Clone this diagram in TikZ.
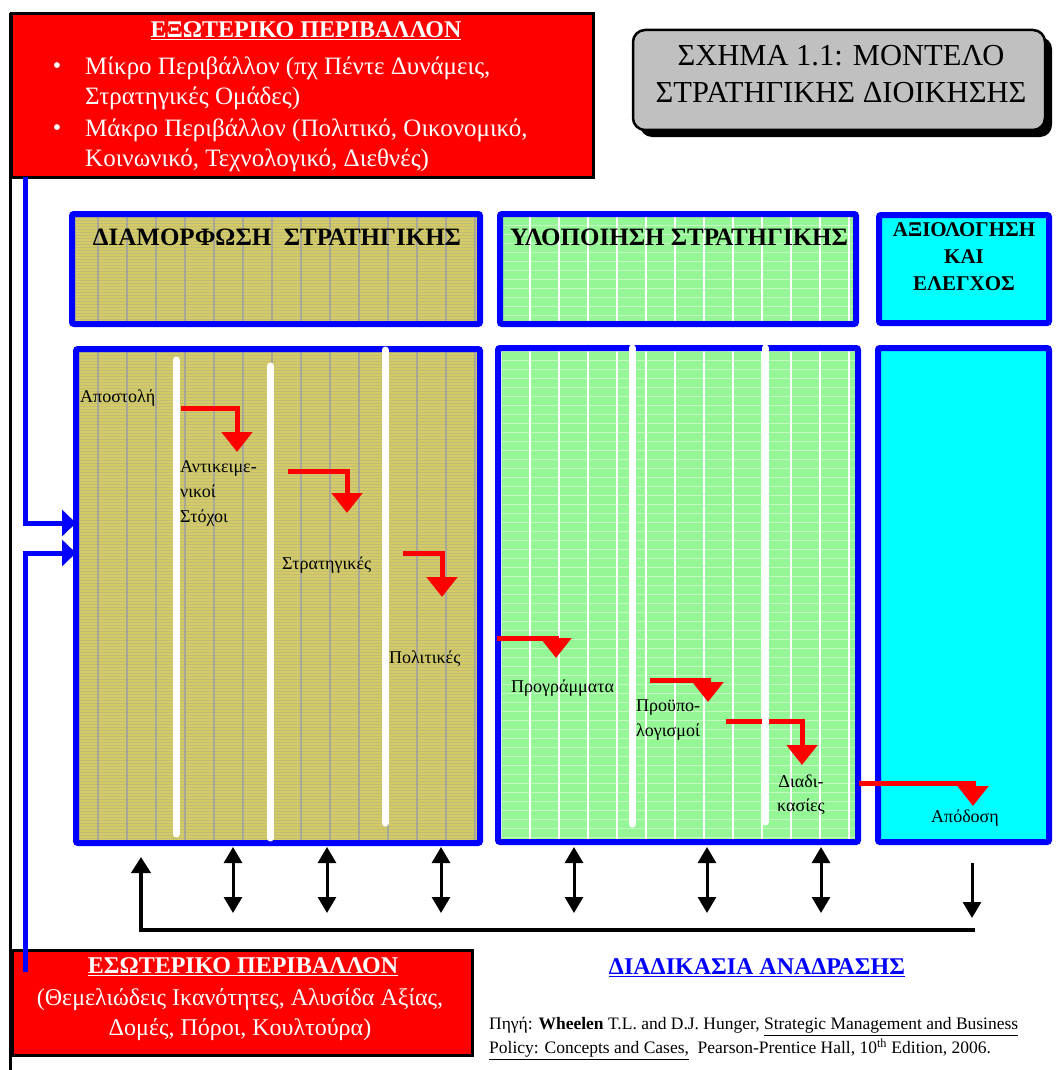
\documentclass[tikz,border=0pt]{standalone}
\usepackage{fontspec}
\setmainfont{Liberation Serif}
\usetikzlibrary{arrows.meta,calc}
\newcommand\pxfont[2]{\fontsize{#1}{#2}\selectfont}
\definecolor{panelblue}{RGB}{0,0,255}
\definecolor{olivefill}{RGB}{212,204,98}
\definecolor{olivestripe}{RGB}{192,188,126}
\definecolor{olivegrid}{RGB}{168,168,152}
\definecolor{greenfill}{RGB}{148,246,148}
\definecolor{cyanfill}{RGB}{0,255,255}
\definecolor{envred}{RGB}{255,0,0}
\definecolor{titlegray}{RGB}{192,192,192}
\begin{document}
\begin{tikzpicture}[x=1pt,y=-1pt,
  panelframe/.style={draw=panelblue,line width=6pt,rounded corners=2pt},
  whitebar/.style={draw=white,line width=7pt,line cap=round},
  redarrow/.style={draw=envred,line width=5pt,-{Triangle[width=30pt,length=20pt]}},
  blkdouble/.style={draw=black,line width=3pt,{Triangle[width=18pt,length=16pt]}-{Triangle[width=18pt,length=16pt]}},
  blkarrow/.style={draw=black,line width=3pt,-{Triangle[width=18pt,length=16pt]}},
  bluearrow/.style={draw=panelblue,line width=5pt,-{Triangle[width=26pt,length=14pt]}},
  envbox/.style={fill=envred,draw=black,line width=3pt},
  envtext/.style={text=white,inner sep=0pt,font=\pxfont{24}{30}},
  headtext/.style={inner sep=0pt,font=\bfseries\pxfont{25}{27},align=center},
  lbl/.style={inner sep=0pt,font=\pxfont{18}{25}}]

\useasboundingbox (0,0) rectangle (1064,1070);
\fill[white] (0,0) rectangle (1064,1070);

% page rule on the left
\draw[black,line width=3pt] (10,13) -- (10,1070);

% ---------- external environment box ----------
\draw[envbox] (11,14) rectangle (593,177);
\node[envtext,font=\bfseries\pxfont{24}{30}] (extitle) at (306,31) {\underline{ΕΞΩΤΕΡΙΚΟ ΠΕΡΙΒΑΛΛΟΝ}};
\node[envtext] (bul1) at (57,68) {•};
\node[envtext,anchor=west,align=left,font=\pxfont{25}{30}] (micro) at (85,83) {Μίκρο Περιβάλλον (πχ Πέντε Δυνάμεις,\\Στρατηγικές Ομάδες)};
\node[envtext] (bul2) at (57,130) {•};
\node[envtext,anchor=west,align=left,font=\pxfont{25}{30}] (macro) at (85,145) {Μάκρο Περιβάλλον (Πολιτικό, Οικονομικό,\\Κοινωνικό, Τεχνολογικό, Διεθνές)};

% ---------- title box ----------
\fill[black,rounded corners=12pt] (640,37) rectangle (1052,137);
\draw[fill=titlegray,draw=black,line width=2.5pt,rounded corners=12pt] (633,30) rectangle (1045,130);
\node[inner sep=0pt,align=center,font=\pxfont{30.5}{37}] (title) at (841,74) {ΣΧΗΜΑ 1.1: ΜΟΝΤΕΛΟ\\ΣΤΡΑΤΗΓΙΚΗΣ ΔΙΟΙΚΗΣΗΣ};

% ---------- olive panels (formulation) ----------
\begin{scope}
  \clip (72,214) rectangle (480,324) (76,349) rectangle (480,843);
  \fill[olivefill] (60,200) rectangle (490,860);
  \foreach \yy in {205,208,...,850} \draw[olivestripe,line width=1pt] (60,\yy) -- (490,\yy);
  \foreach \xx in {98,127,...,479} \draw[olivegrid,line width=1.5pt] (\xx,200) -- (\xx,860);
\end{scope}

% ---------- green panels (implementation) ----------
\begin{scope}
  \clip (500,214) rectangle (856,324) (498,348) rectangle (858,842);
  \fill[greenfill] (490,200) rectangle (870,860);
  \foreach \yy in {216,225,...,840} \draw[white,opacity=0.45,line width=1pt] (490,\yy) -- (870,\yy);
  \foreach \xx in {501,530,...,858} \draw[white,line width=1.3pt] (\xx,200) -- (\xx,860);
\end{scope}

% ---------- cyan panels (evaluation) ----------
\fill[cyanfill] (879,215) rectangle (1049,323);
\fill[cyanfill] (878,348) rectangle (1049,842);

% panel frames
\draw[panelframe] (72,214) rectangle (480,324);
\draw[panelframe] (500,214) rectangle (856,324);
\draw[panelframe] (879,215) rectangle (1049,323);
\draw[panelframe] (76,349) rectangle (480,843);
\draw[panelframe] (498,348) rectangle (858,842);
\draw[panelframe] (878,348) rectangle (1049,842);

% panel headings
\node[headtext] (hform) at (277,237) {ΔΙΑΜΟΡΦΩΣΗ\ \ ΣΤΡΑΤΗΓΙΚΗΣ};
\node[headtext] (himpl) at (679,237) {ΥΛΟΠΟΙΗΣΗ ΣΤΡΑΤΗΓΙΚΗΣ};
\node[headtext,font=\bfseries\pxfont{21}{27}] (heval) at (964,257) {ΑΞΙΟΛΟΓΗΣΗ\\ΚΑΙ\\ΕΛΕΓΧΟΣ};

% ---------- process labels ----------
\node[lbl,anchor=west] (mission) at (80,398) {Αποστολή};
\node[lbl,anchor=west,align=left] (objectives) at (180,493) {Αντικειμε-\\νικοί\\Στόχοι};
\node[lbl,anchor=west] (strategies) at (282,565) {Στρατηγικές};
\node[lbl,anchor=west] (policies) at (389,659) {Πολιτικές};
\node[lbl,anchor=west] (programs) at (511,688) {Προγράμματα};
\node[lbl,anchor=west,align=left] (budgets) at (636,720) {Προϋπο-\\λογισμοί};
\node[lbl,align=center,font=\pxfont{18}{24}] (procedures) at (801,795) {Διαδι-\\κασίες};
\node[lbl] (performance) at (965,818) {Απόδοση};

% ---------- red flow arrows ----------
\coordinate (r1s) at (181,408); \coordinate (r1t) at (237,452);
\coordinate (r2s) at (288,471); \coordinate (r2t) at (347,513);
\coordinate (r3s) at (403,553); \coordinate (r3t) at (442,597);
\coordinate (r4s) at (497,638); \coordinate (r4t) at (556,658);
\coordinate (r5s) at (650,680); \coordinate (r5t) at (708,702);
\coordinate (r6s) at (726,721); \coordinate (r6t) at (802,765);
\coordinate (r7s) at (859,783); \coordinate (r7t) at (973,806);
\foreach \i in {1,...,7} \draw[redarrow] (r\i s) -| (r\i t);

% white column separators
\draw[whitebar] (176,360) -- (176,834);
\draw[whitebar] (270,366) -- (270,838);
\draw[whitebar] (385,350) -- (385,823);
\draw[whitebar] (632,348) -- (632,824);
\draw[whitebar] (765,348) -- (765,822);

% ---------- feedback loop ----------
\foreach \n/\xx in {a/233,b/327,c/441,d/574,e/707,f/821} {
  \coordinate (fb\n top) at (\xx,847);
  \coordinate (fb\n bot) at (\xx,913);
  \draw[blkdouble] (fb\n top) -- (fb\n bot);
}
\coordinate (fbright) at (975,930);
\coordinate (fbup) at (141,857);
\draw[draw=black,line width=4pt,-{Triangle[width=19pt,length=16pt]}] (fbright) -| (fbup);
\coordinate (evtop) at (972,863);
\coordinate (evbot) at (972,918);
\draw[blkarrow] (evtop) -- (evbot);
\node[inner sep=0pt,text=panelblue,font=\bfseries\pxfont{24}{26}] (feedback) at (757,968) {\underline{ΔΙΑΔΙΚΑΣΙΑ ΑΝΑΔΡΑΣΗΣ}};

% ---------- internal environment box ----------
\draw[envbox] (12,950) rectangle (472,1055);
\node[envtext,font=\bfseries\pxfont{24}{30}] (intitle) at (243,967) {\underline{ΕΣΩΤΕΡΙΚΟ ΠΕΡΙΒΑΛΛΟΝ}};
\node[envtext,align=center] (inbody) at (240,1015) {(Θεμελιώδεις Ικανότητες, Αλυσίδα Αξίας,\\Δομές, Πόροι, Κουλτούρα)};

% ---------- environment inputs ----------
\coordinate (exout) at (25,177);
\coordinate (exin) at (76,523);
\coordinate (inout) at (25,972);
\coordinate (inin) at (76,553);
\draw[bluearrow] (exout) |- (exin);
\draw[bluearrow] (inout) |- (inin);

% ---------- source ----------
\node[inner sep=0pt,anchor=north west,align=left,font=\pxfont{17.5}{24}] (source) at (489,1017)
 {Πηγή: \textbf{Wheelen} T.L. and D.J. Hunger, \underline{Strategic Management and Business}\\
  \underline{Policy: Concepts and Cases,}\ \ Pearson-Prentice Hall, 10\textsuperscript{th} Edition, 2006.};
\end{tikzpicture}
\end{document}
